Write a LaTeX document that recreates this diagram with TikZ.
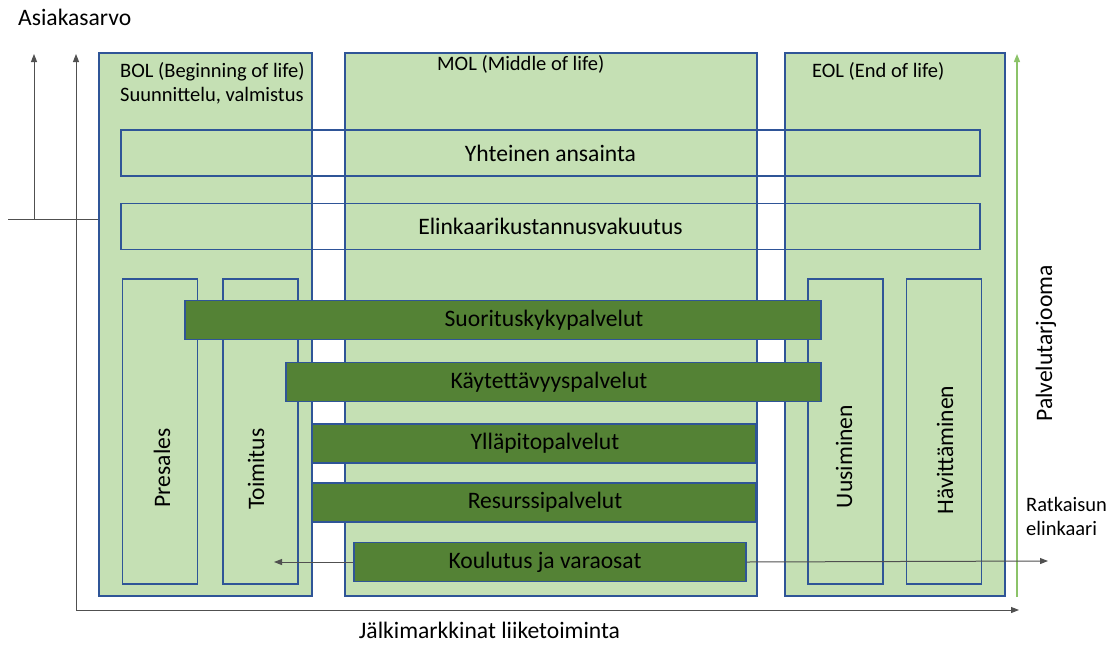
\documentclass[tikz,border=0pt]{standalone}
\usepackage{fontspec}
\setmainfont{Carlito}
\usetikzlibrary{arrows.meta}
\definecolor{lightgreen}{RGB}{197,224,180}
\definecolor{darkgreen}{RGB}{84,130,53}
\definecolor{boxblue}{RGB}{47,85,151}
\definecolor{axisgray}{RGB}{80,80,80}
\definecolor{offergreen}{RGB}{140,195,105}

\begin{document}
\begin{tikzpicture}[
    x=1pt, y=-1pt,
    phase/.style={rectangle, draw=boxblue, fill=lightgreen, line width=1.2pt, inner sep=0pt, minimum width=#1, minimum height=543pt},
    band/.style={rectangle, draw=boxblue, line width=1.2pt, inner sep=0pt, minimum width=859pt, minimum height=46pt, font=\fontsize{23.6}{28}\selectfont},
    sub/.style={rectangle, draw=boxblue, line width=1.2pt, inner sep=0pt, minimum width=75pt, minimum height=305pt},
    service/.style={rectangle, draw=boxblue, fill=darkgreen, line width=1.2pt, inner sep=0pt, minimum width=#1, minimum height=39pt},
    txt/.style={inner sep=0pt, font=\fontsize{23.6}{28}\selectfont},
    header/.style={inner sep=0pt, anchor=base west, font=\fontsize{20.5}{25}\selectfont},
    axis/.style={draw=axisgray, line width=1pt, -{Triangle[length=8pt,width=6pt]}},
    offer/.style={draw=offergreen, line width=1.2pt, -{Triangle[length=8pt,width=6pt]}}
]
\useasboundingbox (0,0) rectangle (1116,646);

\node[phase=213pt] (bol) at (205.5,324.5) {};
\node[phase=412pt] (mol) at (551,324.5) {};
\node[phase=220pt] (eol) at (895,324.5) {};

\node[header] (boltxt) at (120,77) {BOL (Beginning of life)};
\node[header] (boltxt2) at (120,101) {Suunnittelu, valmistus};
\node[header] (moltxt) at (437,70) {MOL (Middle of life)};
\node[header] (eoltxt) at (812,77) {EOL (End of life)};

\node[band] (ansainta) at (550.5,153) {Yhteinen ansainta};
\node[band] (vakuutus) at (550.5,226.5) {Elinkaarikustannusvakuutus};

\node[sub] (presales) at (160,431.5) {};
\node[sub] (toimitus) at (260.5,431.5) {};
\node[sub] (uusiminen) at (845.5,431.5) {};
\node[sub] (havitt) at (944,431.5) {};
\node[txt, rotate=90, anchor=base] at (170,468) {Presales};
\node[txt, rotate=90, anchor=base] at (264,469) {Toimitus};
\node[txt, rotate=90, anchor=base] at (852,456.5) {Uusiminen};
\node[txt, rotate=90, anchor=base] at (953,450) {Hävittäminen};

\node[service=636pt] (suoritus) at (503,320) {};
\node[service=535pt] (kaytto) at (553.5,382) {};
\node[service=444pt] (yllapito) at (534,443.5) {};
\node[service=444pt] (resurssi) at (534,502.5) {};
\node[service=392pt] (koulutus) at (550,562) {};
\node[txt] at (544,320) {Suorituskykypalvelut};
\node[txt] at (549,382) {Käytettävyyspalvelut};
\node[txt] at (545,443.5) {Ylläpitopalvelut};
\node[txt] at (545,502.5) {Resurssipalvelut};
\node[txt] at (545,562) {Koulutus ja varaosat};

\coordinate (upl) at (34,54);
\coordinate (upl0) at (34,219);
\coordinate (hl) at (8,219);
\coordinate (hr) at (bol.west |- upl0);
\coordinate (upr) at (76,54);
\coordinate (corner) at (76,610);
\coordinate (axend) at (1019,610);
\coordinate (gbot) at (1017,597);
\coordinate (gtop) at (1017,54);
\coordinate (ltip) at (274,562);
\coordinate (rtip) at (1048,561);

\draw[axis] (upl0) -- (upl);
\draw[draw=axisgray, line width=1pt] (hl) -- (hr);
\draw[axis, {Triangle[length=8pt,width=6pt]}-{Triangle[length=8pt,width=6pt]}] (upr) -- (corner) -- (axend);
\draw[offer] (gbot) -- (gtop);
\draw[axis] (koulutus.west) -- (ltip);
\draw[axis] (koulutus.east) -- (rtip);

\node[txt, anchor=base west] (asiakas) at (18,25) {Asiakasarvo};
\node[txt, rotate=90, anchor=base] (tarjooma) at (1052,343.5) {Palvelutarjooma};
\node[header] (ratk1) at (1026,511) {Ratkaisun};
\node[header] (ratk2) at (1026,535) {elinkaari};
\node[txt, anchor=base] (jalki) at (489.5,638) {Jälkimarkkinat liiketoiminta};

\end{tikzpicture}
\end{document}
